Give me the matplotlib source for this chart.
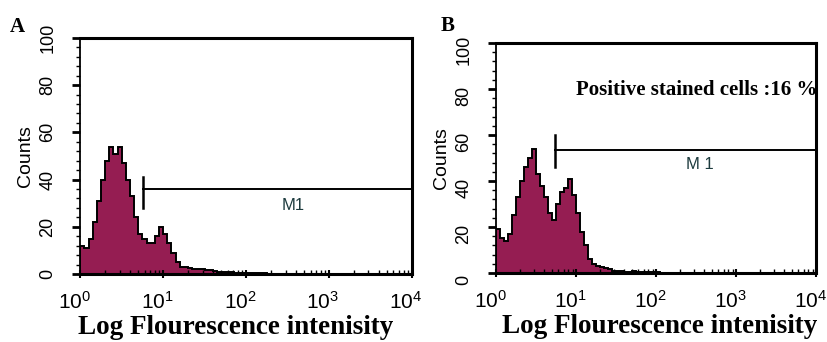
import numpy as np
import matplotlib.pyplot as plt
import matplotlib.transforms as mtransforms
from matplotlib.ticker import MultipleLocator, LogLocator, NullFormatter

# histogram channels: lower edge of each bin in log10 units (0.05 decade wide)
bin_lo = np.arange(0, 4.0, 0.05)

counts_a = [12, 11, 15, 22, 31, 40, 48, 54, 51, 54,
            47, 40, 33, 24, 17, 15, 13, 13, 16, 20,
            17, 13, 9, 5, 3, 3, 2.5, 2, 2, 2,
            1.5, 1.5, 1.2, 1, 1, 0.8, 1, 0.6, 0.5, 0.4,
            0.3, 0.3, 0.2, 0.2, 0.2, 0.1, 0.1, 0.1, 0, 0]
counts_b = [19, 15, 14, 17, 25, 33, 40, 46, 50, 54,
            43, 38, 33, 26, 23, 30, 35, 37, 41, 34,
            26, 18, 12, 6, 4, 3, 2.5, 2, 1.5, 1,
            0.8, 0.8, 0.6, 0.6, 0.8, 0.5, 0.4, 0.3, 0.3, 0.2,
            0.2, 0.1, 0.1, 0, 0, 0, 0, 0, 0, 0]

# marker M1: start channel, height, label position
m1_a = dict(start=5.7, y=36, bar=(28, 41), label_x=370, label_y=29, text="M1")
m1_b = dict(start=5.5, y=53.5, bar=(46, 60), label_x=350, label_y=47, text="M 1")

plt.rcParams['font.family'] = 'Liberation Sans'
plt.rcParams['mathtext.fontset'] = 'custom'
plt.rcParams['mathtext.rm'] = 'Liberation Sans'
plt.rcParams['mathtext.it'] = 'Liberation Sans'

fig = plt.figure(figsize=(8.27, 3.42), dpi=100)
ax_a = fig.add_axes([0.097, 0.199, 0.401, 0.690])
ax_b = fig.add_axes([0.600, 0.202, 0.387, 0.672])


def draw(ax, counts, m1, label_x, ylab_drop):
    counts = np.array(counts + [0] * (len(bin_lo) - len(counts)), dtype=float)
    edges = 10 ** np.append(bin_lo, 4.0)
    ax.stairs(counts, edges, fill=True, color='#951d52', baseline=0)
    ax.stairs(counts, edges, color='black', lw=1.4, baseline=0)
    ax.set_xscale('log')
    ax.set_xlim(1, 1e4)
    ax.set_ylim(0, 100)

    ax.yaxis.set_major_locator(MultipleLocator(20))
    ax.yaxis.set_minor_locator(MultipleLocator(4))
    ax.xaxis.set_major_locator(LogLocator(base=10, numticks=10))
    ax.xaxis.set_minor_locator(LogLocator(base=10, subs=np.arange(2, 10), numticks=10))
    ax.xaxis.set_minor_formatter(NullFormatter())
    ax.tick_params(axis='y', which='major', direction='out', length=6, width=2,
                   labelsize=13, labelrotation=90, pad=11)
    ax.tick_params(axis='y', which='minor', direction='out', length=3, width=1)
    ax.tick_params(axis='x', which='major', direction='inout', length=6, width=1.5,
                   labelsize=15, pad=9)
    ax.tick_params(axis='x', which='minor', direction='in', length=3, width=1)
    ydrop = mtransforms.ScaledTranslation(0, -ylab_drop / 100, fig.dpi_scale_trans)
    for lab in ax.get_yticklabels():
        lab.set_va('center')
        lab.set_transform(lab.get_transform() + ydrop)
    shift = mtransforms.ScaledTranslation(-6 / 100, 0, fig.dpi_scale_trans)
    for lab in ax.get_xticklabels():
        lab.set_transform(lab.get_transform() + shift)

    for side in ['top', 'right', 'bottom']:
        ax.spines[side].set_linewidth(2.2)
    ax.spines['left'].set_linewidth(1.3)

    ax.plot([m1['start'], 1e4], [m1['y'], m1['y']], color='black', lw=1.4)
    ax.plot([m1['start'], m1['start']], m1['bar'], color='black', lw=1.8)
    ax.text(m1['label_x'], m1['label_y'], m1['text'], fontsize=12, color='#1d3b3e',
            ha='center', va='center')

    ax.set_ylabel('Counts', fontsize=14, labelpad=4)
    ax.set_xlabel('Log Flourescence intenisity', family='Liberation Serif',
                  fontweight='bold', fontsize=19.5, labelpad=2)
    ax.xaxis.label.set_x(label_x)


draw(ax_a, counts_a, m1_a, 0.47, 0)
draw(ax_b, counts_b, m1_b, 0.51, 7)

ax_b.text(1.005, 0.795, 'Positive stained cells :16 %', transform=ax_b.transAxes,
          family='Liberation Serif', fontweight='bold', fontsize=15,
          ha='right', va='center')

fig.text(0.012, 0.905, 'A', family='Liberation Serif', fontweight='bold', fontsize=15)
fig.text(0.533, 0.91, 'B', family='Liberation Serif', fontweight='bold', fontsize=15)

fig.savefig('out.png', dpi=100)
